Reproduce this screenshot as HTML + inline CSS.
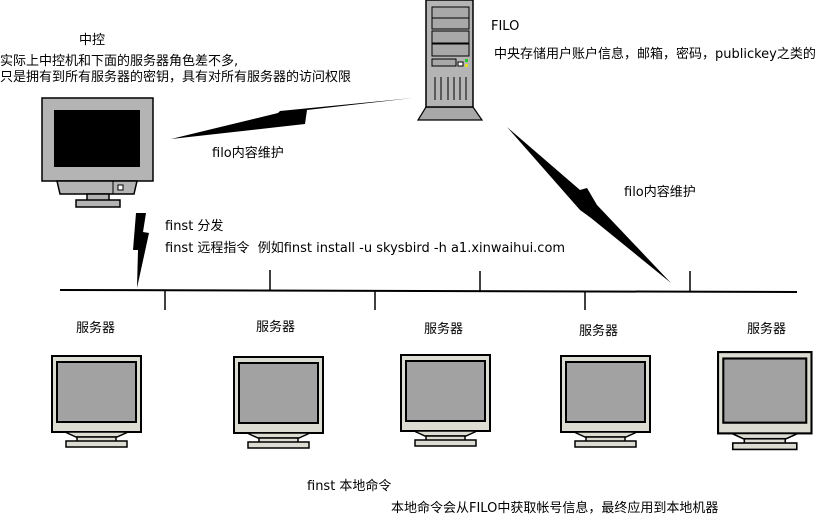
<!DOCTYPE html>
<html><head><meta charset="utf-8"><style>
html,body{margin:0;padding:0;background:#fff}
svg{display:block}
text{font-family:"DejaVu Sans","Noto Sans CJK SC",sans-serif;font-size:13px;fill:#000;white-space:pre}
</style></head><body>
<svg width="816" height="514" viewBox="0 0 816 514" xmlns="http://www.w3.org/2000/svg" xml:space="preserve">
<defs>
<g id="mon">
<rect x="1" y="1" width="89" height="76" fill="#dcdcd2" stroke="#000" stroke-width="2"/>
<rect x="6" y="7" width="79" height="60" fill="#a2a2a2" stroke="#000" stroke-width="2"/>
<path d="M14 77 L77 77 L66 82 L25 82 Z" fill="#dcdcd2" stroke="#000" stroke-width="1.5"/>
<rect x="26" y="82" width="39" height="5" fill="#dcdcd2" stroke="#000" stroke-width="1.5"/>
<rect x="15" y="86" width="61" height="6" fill="#dcdcd2" stroke="#000" stroke-width="1.5"/>
</g>
</defs>

<rect x="42" y="98" width="111" height="83" fill="#b4b4b4" stroke="#000" stroke-width="1.5"/>
<rect x="54" y="110" width="86" height="57" fill="#000"/>
<path d="M57 181 L137 181 L134 194 L60 194 Z" fill="#b4b4b4" stroke="#000" stroke-width="1.5"/>
<line x1="113" y1="181" x2="113" y2="194" stroke="#000" stroke-width="1"/>
<rect x="118" y="185" width="5" height="5" fill="#fff" stroke="#000"/>
<rect x="87" y="194" width="22" height="7" fill="#b4b4b4" stroke="#000" stroke-width="1.5"/>
<rect x="76" y="200" width="44" height="7" fill="#b4b4b4" stroke="#000" stroke-width="1.5"/>

<path d="M426 107 L473 107 L482 120 L418 120 Z" fill="#a8a8a8" stroke="#000" stroke-width="1.2"/>
<rect x="426" y="0" width="47" height="107" fill="#b4b4b4" stroke="#000" stroke-width="1.5"/>
<rect x="432" y="7" width="37" height="11" fill="#a8a8a8" stroke="#000"/>
<rect x="432" y="18" width="37" height="11" fill="#a8a8a8" stroke="#000"/>
<rect x="432" y="31" width="37" height="12" fill="#a8a8a8" stroke="#000"/>
<rect x="432" y="44" width="37" height="12" fill="#a8a8a8" stroke="#000"/>
<rect x="432" y="59" width="24" height="7" fill="#a8a8a8" stroke="#000"/>
<rect x="458" y="62" width="5" height="4" fill="#fff" stroke="#000"/>
<rect x="465" y="59" width="3" height="3" fill="#2c2"/>
<rect x="465" y="64" width="3" height="3" fill="#dd2"/>
<g stroke="#000" stroke-width="1"><line x1="435" y1="77" x2="435" y2="100"/><line x1="441" y1="77" x2="441" y2="100"/><line x1="448" y1="77" x2="448" y2="100"/><line x1="454" y1="77" x2="454" y2="100"/><line x1="460" y1="77" x2="460" y2="100"/><line x1="466" y1="77" x2="466" y2="100"/></g>

<polygon points="171,139 278,113 280,111 413,98 307,110 305,124" fill="#000"/>
<polygon points="507,127 580,190 587,188 597,205 671,283 591,218 580,210" fill="#000"/>
<polygon points="136,213 146,213 143,232 149,233 137,288 138,250 133,250" fill="#000"/>

<line x1="60" y1="290" x2="797" y2="292" stroke="#000" stroke-width="2"/>
<g stroke="#000" stroke-width="1.5">
<line x1="165" y1="291" x2="165" y2="310"/>
<line x1="270" y1="270" x2="270" y2="291"/>
<line x1="375" y1="291" x2="375" y2="310"/>
<line x1="480" y1="271" x2="480" y2="291"/>
<line x1="585" y1="292" x2="585" y2="310"/>
<line x1="690" y1="271" x2="690" y2="292"/>
</g>

<use href="#mon" x="51" y="355"/>
<use href="#mon" x="233" y="356"/>
<use href="#mon" x="400" y="354"/>
<use href="#mon" x="560" y="355"/>
<use href="#mon" transform="translate(717 351) scale(1.05 1.07)"/>

<text x="79" y="44">中控</text>
<text x="0" y="65">实际上中控机和下面的服务器角色差不多,</text>
<text x="0" y="81">只是拥有到所有服务器的密钥，具有对所有服务器的访问权限</text>
<text x="491" y="30">FILO</text>
<text x="494" y="58">中央存储用户账户信息，邮箱，密码，publickey之类的</text>
<text x="212" y="157">filo内容维护</text>
<text x="624" y="196">filo内容维护</text>
<text x="165" y="230">finst 分发</text>
<text x="165" y="252">finst 远程指令  例如finst install -u skysbird -h a1.xinwaihui.com</text>
<text x="76" y="332">服务器</text>
<text x="256" y="331">服务器</text>
<text x="424" y="333">服务器</text>
<text x="579" y="335">服务器</text>
<text x="747" y="333">服务器</text>
<text x="307" y="490">finst 本地命令</text>
<text x="391" y="512">本地命令会从FILO中获取帐号信息，最终应用到本地机器</text>
</svg>
</body></html>
